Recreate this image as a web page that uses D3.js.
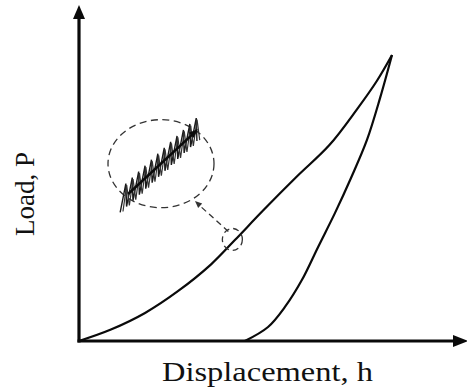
<!DOCTYPE html>
<html>
<head>
<meta charset="utf-8">
<script src="https://cdn.jsdelivr.net/npm/d3@7"></script>
<style>
  html, body { margin: 0; padding: 0; background: #fff; }
  svg { display: block; }
  text { font-family: "Liberation Serif", "Times New Roman", serif; fill: #111; }
</style>
</head>
<body>
<svg id="chart" width="467" height="388"></svg>
<script>
// Load–displacement curve of an indentation test (loading and unloading branches)
const loadH = [0, 10.2, 21.1, 31.6, 42.2, 49.8, 58.8, 69.6, 80.0, 88.8, 95.2, 100];
const loadP = [0, 4.0, 9.8, 17.4, 26.8, 35.3, 45.6, 57.5, 68.5, 81.0, 91.0, 100];
const unloadH = [53.0, 60.4, 65.8, 71.2, 76.4, 81.8, 86.9, 92.0, 96.2, 100];
const unloadP = [0, 4.9, 11.9, 21.3, 32.9, 44.8, 57.0, 70.3, 85.0, 100];

// Marked spot on the loading branch and the magnified spring inset
const spotH = 49.0, spotP = 35.5;
const insetH = 26.2, insetP = 62.0;
const springFrom = [15.7, 51.4];
const springTo = [38.0, 74.1];
const springTeeth = 12;

const xLabel = "Displacement, h";
const yLabel = "Load, P";

const svg = d3.select("#chart");
const x = d3.scaleLinear().domain([0, 100]).range([79, 392]);
const y = d3.scaleLinear().domain([0, 100]).range([341, 55]);

const ink = "#0a0a0a";

// axes with arrow heads
const x0 = x(0), y0 = y(0);
svg.append("line").attr("x1", x0).attr("y1", y0 + 1.5).attr("x2", x0).attr("y2", 14)
  .attr("stroke", ink).attr("stroke-width", 3.2);
svg.append("line").attr("x1", x0 - 1.5).attr("y1", y0).attr("x2", 456).attr("y2", y0)
  .attr("stroke", ink).attr("stroke-width", 3.2);
svg.append("path").attr("d", `M${x0},5 L${x0 - 6},19 L${x0 + 6},19 Z`).attr("fill", ink);
svg.append("path").attr("d", `M468,${y0} L453,${y0 - 6} L453,${y0 + 6} Z`).attr("fill", ink);

const line = d3.line().x(d => x(d[0])).y(d => y(d[1])).curve(d3.curveCatmullRom.alpha(0.5));

svg.append("path").datum(d3.zip(loadH, loadP)).attr("d", line)
  .attr("fill", "none").attr("stroke", ink).attr("stroke-width", 2.2);
svg.append("path").datum(d3.zip(unloadH, unloadP)).attr("d", line)
  .attr("fill", "none").attr("stroke", ink).attr("stroke-width", 2.2);

// dashed markers
const dashCol = "#333";
svg.append("ellipse").attr("cx", x(spotH)).attr("cy", y(spotP)).attr("rx", 10).attr("ry", 11)
  .attr("fill", "none").attr("stroke", dashCol).attr("stroke-width", 1.3).attr("stroke-dasharray", "6,4");
svg.append("ellipse").attr("cx", x(insetH)).attr("cy", y(insetP)).attr("rx", 53).attr("ry", 44)
  .attr("fill", "none").attr("stroke", dashCol).attr("stroke-width", 1.3).attr("stroke-dasharray", "7,4.5");

// dashed pointer from the marked spot to the inset
const ax1 = x(spotH) - 4, ay1 = y(spotP) - 8;
const ax2 = 195, ay2 = 201;
svg.append("line").attr("x1", ax1).attr("y1", ay1).attr("x2", ax2 + 4).attr("y2", ay2 + 4)
  .attr("stroke", dashCol).attr("stroke-width", 1.3).attr("stroke-dasharray", "6,4");
{
  const ang = Math.atan2(ay2 - ay1, ax2 - ax1);
  const L = 7, W = 3;
  const bx = ax2 - L * Math.cos(ang), by = ay2 - L * Math.sin(ang);
  const px = -Math.sin(ang) * W, py = Math.cos(ang) * W;
  svg.append("path").attr("d", `M${ax2},${ay2} L${bx + px},${by + py} L${bx - px},${by - py} Z`).attr("fill", dashCol);
}

// spring coil: narrow looped teeth along the axis line
const sx1 = x(springFrom[0]), sy1 = y(springFrom[1]);
const sx2 = x(springTo[0]), sy2 = y(springTo[1]);
const coil = [];
for (let i = 0; i <= springTeeth * 2; i++) {
  const t = -0.1 + 1.1 * i / (springTeeth * 2);
  const cx = sx1 + (sx2 - sx1) * t, cy = sy1 + (sy2 - sy1) * t;
  const up = i % 2 === 1;
  coil.push([cx + (up ? 1.5 : -1), cy + (up ? -14 : 12)]);
}
svg.append("path").attr("d", d3.line()(coil))
  .attr("fill", "none").attr("stroke", "#1a1a1a").attr("stroke-width", 1.4);
const coil2 = coil.map(([a, b], i) => [a + (i % 2 ? 0.8 : 2.8), b + (i % 2 ? 1.5 : -1)]);
svg.append("path").attr("d", d3.line()(coil2))
  .attr("fill", "none").attr("stroke", "#333").attr("stroke-width", 1.2);

svg.append("line").attr("x1", sx1).attr("y1", sy1).attr("x2", sx2 - 3).attr("y2", sy2 + 3)
  .attr("stroke", ink).attr("stroke-width", 2.4);
{
  const ang = Math.atan2(sy2 - sy1, sx2 - sx1);
  const L = 9, W = 3.5;
  const bx = sx2 - L * Math.cos(ang), by = sy2 - L * Math.sin(ang);
  const px = -Math.sin(ang) * W, py = Math.cos(ang) * W;
  svg.append("path").attr("d", `M${sx2},${sy2} L${bx + px},${by + py} L${bx - px},${by - py} Z`).attr("fill", ink);
}

// axis titles
svg.append("text").attr("x", 162).attr("y", 381).attr("font-size", 27)
  .attr("textLength", 211).attr("lengthAdjust", "spacingAndGlyphs").text(xLabel);
svg.append("text").attr("transform", "translate(34,194) rotate(-90)")
  .attr("text-anchor", "middle").attr("font-size", 27).text(yLabel);
</script>
</body>
</html>
